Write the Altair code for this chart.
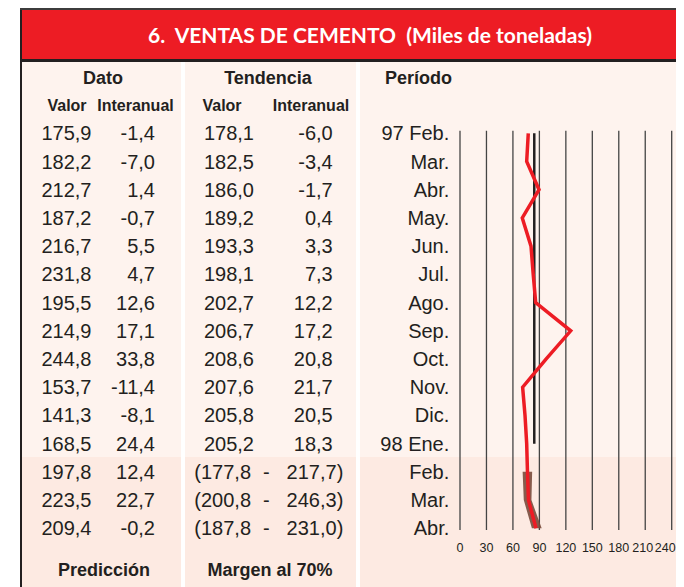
import altair as alt
import pandas as pd

# ---------------- data ----------------
periods = ["97 Feb.", "Mar.", "Abr.", "May.", "Jun.", "Jul.", "Ago.", "Sep.",
           "Oct.", "Nov.", "Dic.", "98 Ene.", "Feb.", "Mar.", "Abr."]
dato_valor = [175.9, 182.2, 212.7, 187.2, 216.7, 231.8, 195.5, 214.9,
              244.8, 153.7, 141.3, 168.5, 197.8, 223.5, 209.4]
dato_inter = [-1.4, -7.0, 1.4, -0.7, 5.5, 4.7, 12.6, 17.1,
              33.8, -11.4, -8.1, 24.4, 12.4, 22.7, -0.2]
tend_valor = [178.1, 182.5, 186.0, 189.2, 193.3, 198.1, 202.7, 206.7,
              208.6, 207.6, 205.8, 205.2]
tend_inter = [-6.0, -3.4, -1.7, 0.4, 3.3, 7.3, 12.2, 17.2,
              20.8, 21.7, 20.5, 18.3]
margin_lo = [177.8, 200.8, 187.8]
margin_hi = [217.7, 246.3, 231.0]

# plotted series (axis 0-240)
series_vals = [77.4, 75.6, 89.6, 70.6, 80.5, 83.0, 85.8, 125.5,
               97.5, 71.0, 73.7, 75.6, 76.5, 77.6, 86.2]
band_lo = [71.0, 72.3, 81.5]
band_hi = [81.8, 81.0, 92.6]
ref_value = 84.2
ticks = [0, 30, 60, 90, 120, 150, 180, 210, 240]

# ---------------- helpers ----------------
def fmt(v):
    return f"{v:.1f}".replace(".", ",")

INK = "#231F20"
RED = "#ED1C24"
FONT = "Liberation Sans"
NB = "\u00a0"
W, H = 668, 579

rows = list(range(len(periods)))
table = pd.DataFrame({
    "row": rows,
    "period": periods,
    "dv": [fmt(v) for v in dato_valor],
    "di": [fmt(v) for v in dato_inter],
    "val": series_vals,
})
trend = pd.DataFrame({
    "row": rows[:len(tend_valor)],
    "tv": [fmt(v) for v in tend_valor],
    "ti": [fmt(v) for v in tend_inter],
})
pred = pd.DataFrame({
    "row": rows[-3:],
    "lo": ["(" + fmt(v) for v in margin_lo],
    "hi": [fmt(v) + ")" for v in margin_hi],
    "dash": ["-"] * 3,
    "blo": band_lo,
    "bhi": band_hi,
})
tick_df = pd.DataFrame({"tick": ticks})
ref_df = pd.DataFrame({"v": [ref_value], "r0": [0], "r1": [11]})
one = pd.DataFrame({"k": [0]})

yscale = alt.Scale(domain=[0, 14], range=[125.3, 520.3], nice=False, zero=False)
xscale = alt.Scale(domain=[0, 240], range=[452, 663.7], nice=False, zero=False)
Y = alt.Y("row:Q", scale=yscale, axis=None)
XT = alt.X("tick:Q", scale=xscale, axis=None)


def rect(x0, x1, y0, y1, color):
    return alt.Chart(one).mark_rect(color=color).encode(
        x=alt.value(x0), x2=alt.value(x1), y=alt.value(y0), y2=alt.value(y1))


def label(text, x, y, size, align="center", bold=True, color=INK, font=FONT):
    return alt.Chart(one).mark_text(
        text=text, align=align, baseline="middle", fontSize=size,
        fontWeight="bold" if bold else "normal", font=font, color=color
    ).encode(x=alt.value(x), y=alt.value(y))


def col(df, field, x, align):
    return alt.Chart(df).mark_text(
        align=align, baseline="middle", fontSize=20, font=FONT, color=INK, dy=1
    ).encode(x=alt.value(x), y=Y, text=f"{field}:N")


def tick_text(cond, align="center", dx=0):
    return alt.Chart(tick_df).transform_filter(cond).mark_text(
        baseline="middle", align=align, fontSize=12.5, font=FONT, color=INK, dx=dx
    ).encode(x=XT, y=alt.value(540), text=alt.Text("tick:Q", format="d"))


backgrounds = [
    rect(12, 14, 0, H, INK),              # left border
    rect(12, W, 0, 2, "#3c3c3c"),         # top border
    rect(14, W, 2, 51, RED),              # banner
    rect(14, W, 51, 54, INK),             # banner bottom line
    rect(14, W, 54, 449, "#FEF3EE"),      # light pink
    rect(14, W, 449, H, "#FDEAE2"),       # prediction area
    rect(173, 177, 54, H, "#FFFFFF"),     # column separators
    rect(348, 352, 54, H, "#FFFFFF"),
]

grid = alt.Chart(tick_df).mark_rule(color="#444444", strokeWidth=1.3).encode(
    x=XT, y=alt.value(122.7), y2=alt.value(522))

tick_labels = [
    tick_text(alt.datum.tick < 210),
    tick_text(alt.datum.tick == 210, dx=-2.5),
    tick_text(alt.datum.tick == 240, align="right", dx=4),
]

ref_line = alt.Chart(ref_df).mark_rule(color=INK, strokeWidth=2.5).encode(
    x=alt.X("v:Q", scale=xscale, axis=None),
    y=alt.Y("r0:Q", scale=yscale, axis=None), y2="r1:Q")

band = alt.Chart(pred).mark_area(orient="horizontal", color="#7A4B3C", opacity=0.9).encode(
    y=Y, x=alt.X("blo:Q", scale=xscale, axis=None), x2="bhi:Q")

line = alt.Chart(table).mark_line(color=RED, strokeWidth=3.5, strokeJoin="miter").encode(
    x=alt.X("val:Q", scale=xscale, axis=None), y=Y, order="row:Q")

texts = [
    label("6." + NB + " VENTAS DE CEMENTO" + NB + " (Miles de toneladas)", 362, 28.5, 21,
          color="#FFFFFF", font="Lato"),
    label("Dato", 95, 71, 18),
    label("Tendencia", 260, 71, 18),
    label("Período", 377, 71, 18, align="left"),
    label("Valor", 59, 98, 16),
    label("Interanual", 127.5, 98, 16),
    label("Valor", 214, 98, 16),
    label("Interanual", 303, 98, 16),
    label("Predicción", 96, 563, 18),
    label("Margen al 70%", 262, 563, 18),
    col(table, "dv", 83.5, "right"),
    col(table, "di", 147, "right"),
    col(trend, "tv", 246, "right"),
    col(trend, "ti", 324.7, "right"),
    col(pred, "lo", 186.3, "left"),
    col(pred, "dash", 258.3, "center"),
    col(pred, "hi", 335.3, "right"),
    col(table, "period", 441.3, "right"),
]

chart = alt.layer(
    *backgrounds, grid, ref_line, band, line, *tick_labels, *texts
).properties(
    width=W, height=H,
    autosize=alt.AutoSizeParams(type="none"),
    padding=0,
    background="#FFFFFF",
).configure_view(stroke=None)

chart.save("out.html", embed_options={"renderer": "svg", "actions": False})
